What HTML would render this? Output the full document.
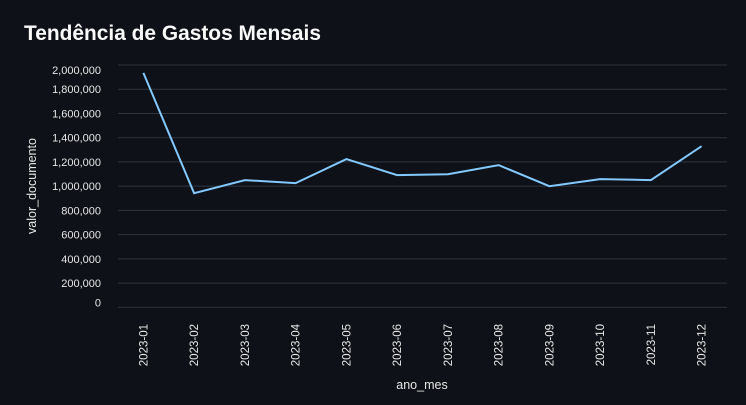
<!DOCTYPE html>
<html><head><meta charset="utf-8"><style>
body{margin:0;background:#0e1117;width:746px;height:400px;overflow:hidden;font-family:"Liberation Sans",sans-serif}
</style></head><body>
<svg width="746" height="400" xmlns="http://www.w3.org/2000/svg">
<text x="24" y="40" fill="#fafafa" font-size="21" font-weight="bold" textLength="297" lengthAdjust="spacingAndGlyphs">Tendência de Gastos Mensais</text>
<g id="grid"></g><g id="ylab"></g><g id="xlab"></g>
<text transform="translate(36,186) rotate(-90)" text-anchor="middle" fill="#e6e6e6" font-size="12.5">valor_documento</text>
<text x="422" y="389" text-anchor="middle" fill="#e6e6e6" font-size="12.5">ano_mes</text>
<path id="line" fill="none" stroke="#83c9ff" stroke-width="2"/>
</svg>
<script>
const categories=["2023-01","2023-02","2023-03","2023-04","2023-05","2023-06","2023-07","2023-08","2023-09","2023-10","2023-11","2023-12"];
const values=[1935000,942000,1050000,1025000,1223000,1091000,1099000,1174000,1000000,1058000,1050000,1330000];
const yTicks=[0,200000,400000,600000,800000,1000000,1200000,1400000,1600000,1800000,2000000];
const NS="http://www.w3.org/2000/svg";
const x0=118,x1=727,y0=307.3,y1=65;
const bw=(x1-x0)/categories.length;
const xs=i=>x0+bw*(i+0.5);
const ys=v=>y0-(v/2000000)*(y0-y1);
const grid=document.getElementById('grid'),yl=document.getElementById('ylab'),xl=document.getElementById('xlab');
yTicks.forEach((t,i)=>{
 const l=document.createElementNS(NS,'line');
 l.setAttribute('x1',x0);l.setAttribute('x2',x1);l.setAttribute('y1',ys(t));l.setAttribute('y2',ys(t));
 l.setAttribute('stroke','#31333f');l.setAttribute('stroke-width','1');
 
 
 grid.appendChild(l);
 const tx=document.createElementNS(NS,'text');
 let y=ys(t)+4;if(i===0)y=ys(t)-1;if(i===yTicks.length-1)y=ys(t)+9;
 tx.setAttribute('x',101);tx.setAttribute('y',y);tx.setAttribute('text-anchor','end');
 tx.setAttribute('fill','#e6e6e6');tx.setAttribute('font-size','11');
 tx.textContent=t.toLocaleString('en-US');
 
 
 yl.appendChild(tx);
});
categories.forEach((c,i)=>{
 const tx=document.createElementNS(NS,'text');
 tx.setAttribute('transform',`translate(${xs(i)+4},324) rotate(-90)`);
 tx.setAttribute('text-anchor','end');tx.setAttribute('fill','#e6e6e6');tx.setAttribute('font-size','11.5');
 tx.textContent=c;
 
 
 xl.appendChild(tx);
});
document.getElementById('line').setAttribute('d',values.map((v,i)=>(i?'L':'M')+xs(i).toFixed(1)+','+ys(v).toFixed(1)).join(''));
</script>
</body></html>
